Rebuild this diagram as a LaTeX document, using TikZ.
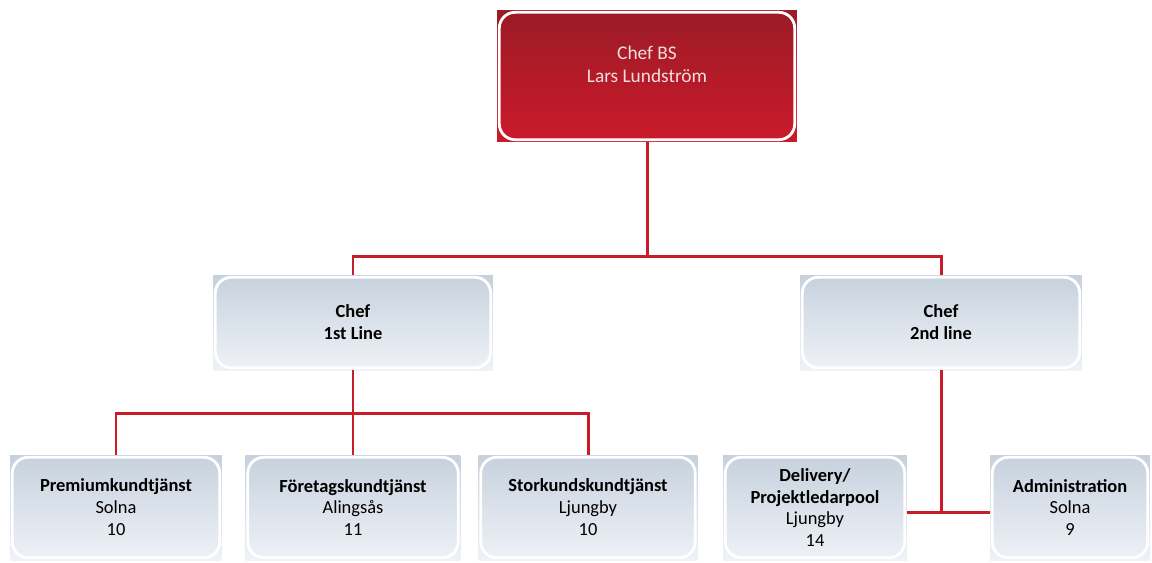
\documentclass[tikz,border=0pt]{standalone}
\usepackage{fontspec}
\setmainfont{Carlito}
\definecolor{topdark}{RGB}{155,27,38}
\definecolor{topbright}{RGB}{203,26,42}
\definecolor{toptext}{RGB}{242,222,224}
\definecolor{boxtop}{RGB}{198,209,221}
\definecolor{boxbottom}{RGB}{239,242,247}
\definecolor{linered}{RGB}{200,28,40}
\begin{document}
\begin{tikzpicture}[x = 0.02cm, y = -0.02cm,
	box/.style = {rectangle, inner sep = 0pt, align = center,
		font = \fontsize{10.5}{12.5}\selectfont,
		path picture = {\draw[white, line width = 1.6pt, rounded corners = 9pt]
			([shift = {(1.3pt,1.3pt)}]path picture bounding box.south west) rectangle
			([shift = {(-1.3pt,-1.3pt)}]path picture bounding box.north east);}},
	redbox/.style = {box, top color = topdark, bottom color = topbright,
		text = toptext, font = \fontsize{11}{13}\selectfont},
	bluebox/.style = {box, top color = boxtop, bottom color = boxbottom, text = black},
	orgline/.style = {draw = linered, line width = 1.7pt}]
	\useasboundingbox (0,0) rectangle (1152,562);
	
	\node[redbox, minimum width = 6cm, minimum height = 2.64cm](chef) at (647,76)
		{Chef BS\\Lars Lundström\\[0pt]\mbox{}};
	
	\node[bluebox, minimum width = 5.6cm, minimum height = 1.9cm](first) at (353,322.5)
		{\textbf{Chef}\\\textbf{1st Line}};
	\node[bluebox, minimum width = 5.64cm, minimum height = 1.9cm](second) at (941,322.5)
		{\textbf{Chef}\\\textbf{2nd line}};
	
	\node[bluebox, minimum width = 4.24cm, minimum height = 2.1cm](premium) at (116,507.5)
		{\textbf{Premiumkundtjänst}\\Solna\\10};
	\node[bluebox, minimum width = 4.3cm, minimum height = 2.1cm](foretag) at (353,507.5)
		{\textbf{Företagskundtjänst}\\Alingsås\\11};
	\node[bluebox, minimum width = 4.38cm, minimum height = 2.1cm](storkund) at (588,507.5)
		{\textbf{Storkundskundtjänst}\\Ljungby\\10};
	\node[bluebox, minimum width = 3.68cm, minimum height = 2.1cm](delivery) at (815,507.5)
		{\textbf{Delivery/}\\\textbf{Projektledarpool}\\Ljungby\\14};
	\node[bluebox, minimum width = 3.2cm, minimum height = 2.1cm](admin) at (1070,507.5)
		{\textbf{Administration}\\Solna\\9};
	
	\path (chef.south) ++(0,114) coordinate(bus1);
	\path (first.south) ++(0,43) coordinate(bus2);
	\path (second.south |- delivery.east) ++(0,4.5) coordinate(bus3);
	
	\draw[orgline] (chef.south) -- (bus1);
	\draw[orgline] (first.north) |- (bus1) -| (second.north);
	
	\draw[orgline] (first.south) -- (bus2);
	\draw[orgline] (premium.north) |- (bus2) -| (storkund.north);
	\draw[orgline] (bus2) -- (foretag.north);
	
	\draw[orgline] (second.south) -- (bus3);
	\draw[orgline] (delivery.east |- bus3) -- (admin.west |- bus3);
	
\end{tikzpicture}
\end{document}
